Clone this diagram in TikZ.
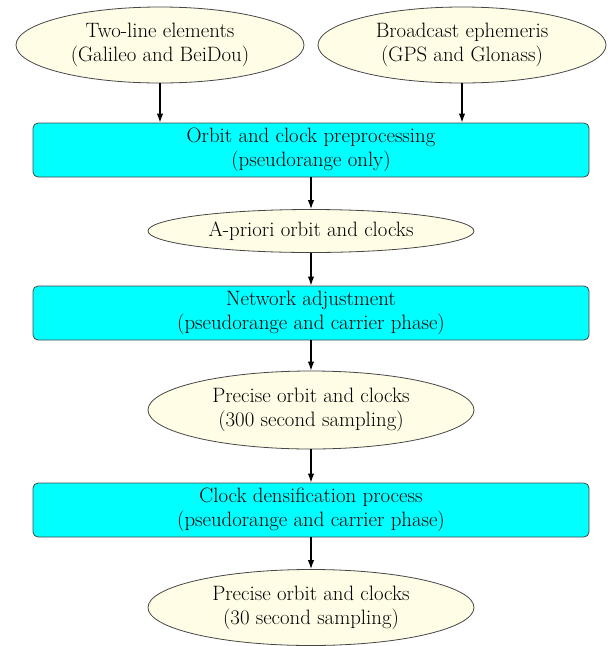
\documentclass[tikz,border=0pt]{standalone}
\usetikzlibrary{shapes.geometric,arrows.meta}
\definecolor{boxcyan}{RGB}{0,255,255}
\definecolor{datafill}{RGB}{255,253,230}
\definecolor{edgegray}{RGB}{70,70,70}
\begin{document}
\begin{tikzpicture}[x=1pt,y=1pt,
  every node/.style={font=\fontsize{20.8}{24}\selectfont, align=center, inner sep=0pt},
  dataitem/.style={ellipse, draw=edgegray, line width=0.8pt, fill=datafill},
  process/.style={rectangle, rounded corners=5pt, draw=edgegray, line width=0.8pt, fill=boxcyan,
    minimum width=556pt, minimum height=54pt},
  flow/.style={-{Latex[length=9pt,width=6.5pt]}, line width=1.3pt}]
\useasboundingbox (0,0) rectangle (608,-646);
% input sources
\node[dataitem, minimum width=288pt, minimum height=76pt] (tle) at (160,-45) {Two-line elements\\(Galileo and BeiDou)};
\node[dataitem, minimum width=288pt, minimum height=76pt] (brd) at (462,-45) {Broadcast ephemeris\\(GPS and Glonass)};
% processing chain
\node[process] (pre) at (311,-150) {Orbit and clock preprocessing\\(pseudorange only)};
\node[dataitem, minimum width=326pt, minimum height=43pt] (apr) at (311,-231) {A-priori orbit and clocks};
\node[process] (net) at (311,-313) {Network adjustment\\(pseudorange and carrier phase)};
\node[dataitem, minimum width=326pt, minimum height=78pt] (p300) at (311,-410) {Precise orbit and clocks\\(300 second sampling)};
\node[process] (den) at (311,-510) {Clock densification process\\(pseudorange and carrier phase)};
\node[dataitem, minimum width=326pt, minimum height=76pt] (p30) at (311,-607.5) {Precise orbit and clocks\\(30 second sampling)};
% connectors
\draw[flow] (tle.south) -- (tle.south |- pre.north);
\draw[flow] (brd.south) -- (brd.south |- pre.north);
\draw[flow] (pre) -- (apr);
\draw[flow] (apr) -- (net);
\draw[flow] (net) -- (p300);
\draw[flow] (p300) -- (den);
\draw[flow] (den) -- (p30);
\end{tikzpicture}
\end{document}
